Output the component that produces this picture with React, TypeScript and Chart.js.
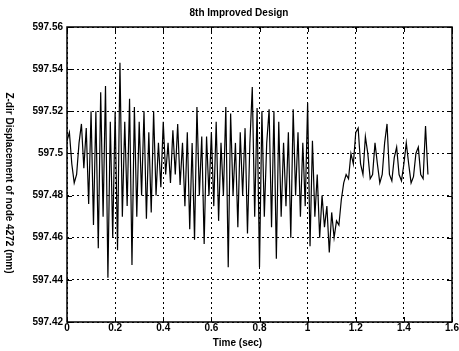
import React, { useEffect, useRef } from "react";
import { Chart, registerables } from "chart.js";

Chart.register(...registerables);

const chartTitle = "8th Improved Design";
const xAxisTitle = "Time (sec)";
const yAxisTitle = "Z-dir Displacement of node 4272 (mm)";

const xTickValues = [0, 0.2, 0.4, 0.6, 0.8, 1, 1.2, 1.4, 1.6];
const xTickLabels = ["0", "0.2", "0.4", "0.6", "0.8", "1", "1.2", "1.4", "1.6"];
const yTickValues = [597.42, 597.44, 597.46, 597.48, 597.5, 597.52, 597.54, 597.56];
const yTickLabels = ["597.42", "597.44", "597.46", "597.48", "597.5", "597.52", "597.54", "597.56"];

const sampleStep = 0.01; // sec between samples

const displacement = [
  // 0.00 - 0.09
  597.506, 597.51, 597.495, 597.486, 597.49, 597.505, 597.514, 597.493, 597.512, 597.476,
  // 0.10 - 0.19
  597.52, 597.466, 597.52, 597.455, 597.529, 597.47, 597.532, 597.441, 597.515, 597.46,
  // 0.20 - 0.29
  597.52, 597.454, 597.543, 597.47, 597.515, 597.475, 597.526, 597.447, 597.522, 597.47,
  // 0.30 - 0.39
  597.515, 597.48, 597.52, 597.469, 597.51, 597.472, 597.52, 597.48, 597.505, 597.484,
  // 0.40 - 0.49
  597.515, 597.49, 597.505, 597.486, 597.511, 597.49, 597.514, 597.485, 597.505, 597.475,
  // 0.50 - 0.59
  597.51, 597.464, 597.505, 597.459, 597.522, 597.48, 597.508, 597.457, 597.508, 597.48,
  // 0.60 - 0.69
  597.51, 597.475, 597.515, 597.468, 597.505, 597.48, 597.522, 597.446, 597.519, 597.48,
  // 0.70 - 0.79
  597.505, 597.465, 597.51, 597.48, 597.512, 597.462, 597.505, 597.5315, 597.47, 597.5215,
  // 0.80 - 0.89
  597.446, 597.52, 597.47, 597.505, 597.521, 597.465, 597.52, 597.45, 597.515, 597.47,
  // 0.90 - 0.99
  597.505, 597.475, 597.51, 597.46, 597.521, 597.48, 597.51, 597.47, 597.505, 597.475,
  // 1.00 - 1.09
  597.524, 597.456, 597.506, 597.47, 597.49, 597.46, 597.48, 597.465, 597.475, 597.453,
  // 1.10 - 1.19
  597.472, 597.46, 597.468, 597.466, 597.478, 597.486, 597.49, 597.488, 597.5, 597.495,
  // 1.20 - 1.29
  597.51, 597.512, 597.495, 597.49, 597.508, 597.5, 597.488, 597.49, 597.505, 597.495,
  // 1.30 - 1.39
  597.486, 597.49, 597.505, 597.514, 597.49, 597.487, 597.498, 597.503, 597.49, 597.487,
  // 1.40 - 1.50
  597.495, 597.505, 597.495, 597.486, 597.489, 597.5, 597.503, 597.49, 597.488, 597.513, 597.49,
];

const FONT = '"Liberation Sans", Arial, Helvetica, sans-serif';

const framePlugin = {
  id: "matlabFrame",
  afterDraw(chart: any) {
    const { ctx, chartArea: a } = chart;
    const xs = chart.scales.x;
    const ys = chart.scales.y;
    ctx.save();
    ctx.strokeStyle = "#000";
    ctx.lineWidth = 1.5;
    ctx.strokeRect(a.left, a.top, a.right - a.left, a.bottom - a.top);
    ctx.lineWidth = 1;
    ctx.beginPath();
    xTickValues.forEach((v) => {
      const px = Math.round(xs.getPixelForValue(v)) + 0.5;
      ctx.moveTo(px, a.bottom);
      ctx.lineTo(px, a.bottom - 5);
      ctx.moveTo(px, a.top);
      ctx.lineTo(px, a.top + 5);
    });
    yTickValues.forEach((v) => {
      const py = Math.round(ys.getPixelForValue(v)) + 0.5;
      ctx.moveTo(a.left, py);
      ctx.lineTo(a.left + 5, py);
      ctx.moveTo(a.right, py);
      ctx.lineTo(a.right - 5, py);
    });
    ctx.stroke();

    ctx.fillStyle = "#000";
    ctx.font = `bold 10px ${FONT}`;
    ctx.textAlign = "center";
    ctx.textBaseline = "middle";
    ctx.fillText(chartTitle, 239, 13);
    ctx.fillText(xAxisTitle, 237.5, 343);
    ctx.translate(9, 183);
    ctx.rotate(Math.PI / 2);
    ctx.fillText(yAxisTitle, 0, 0);
    ctx.restore();
  },
};

export default function App() {
  const canvasRef = useRef<HTMLCanvasElement | null>(null);

  useEffect(() => {
    if (!canvasRef.current) return;
    const points = displacement.map((v, i) => ({ x: i * sampleStep, y: v }));
    const chart = new Chart(canvasRef.current, {
      type: "line",
      data: {
        datasets: [
          {
            data: points,
            borderColor: "#000",
            borderWidth: 1.2,
            pointRadius: 0,
            tension: 0,
            fill: false,
          },
        ],
      },
      options: {
        animation: false,
        responsive: true,
        maintainAspectRatio: false,
        layout: { padding: { top: 27, right: 7, left: 0, bottom: 0 } },
        plugins: {
          legend: { display: false },
          tooltip: { enabled: false },
          title: { display: false },
        },
        scales: {
          x: {
            type: "linear",
            min: 0,
            max: 1.6,
            afterBuildTicks: (scale: any) => {
              scale.ticks = xTickValues.map((v) => ({ value: v }));
            },
            afterFit: (scale: any) => {
              scale.height = 29;
            },
            ticks: {
              autoSkip: false,
              maxRotation: 0,
              padding: 0,
              color: "#000",
              font: { family: FONT, size: 10, weight: "bold" },
              callback: (v: any) => {
                const idx = xTickValues.findIndex((t) => Math.abs(t - Number(v)) < 1e-9);
                return idx >= 0 ? xTickLabels[idx] : "";
              },
            },
            grid: { color: "#000", lineWidth: 1, drawTicks: false },
            border: { display: false, dash: [2, 3] },
          },
          y: {
            type: "linear",
            min: 597.42,
            max: 597.56,
            afterBuildTicks: (scale: any) => {
              scale.ticks = yTickValues.map((v) => ({ value: v }));
            },
            afterFit: (scale: any) => {
              scale.width = 67;
            },
            ticks: {
              autoSkip: false,
              padding: 4,
              color: "#000",
              font: { family: FONT, size: 10, weight: "bold" },
              callback: (v: any) => {
                const idx = yTickValues.findIndex((t) => Math.abs(t - Number(v)) < 1e-9);
                return idx >= 0 ? yTickLabels[idx] : "";
              },
            },
            grid: { color: "#000", lineWidth: 1, drawTicks: false },
            border: { display: false, dash: [2, 3] },
          },
        },
      },
      plugins: [framePlugin],
    });
    return () => chart.destroy();
  }, []);

  return (
    <div style={{ position: "absolute", left: 0, top: 0, width: 459, height: 351, background: "#fff" }}>
      <canvas ref={canvasRef} />
    </div>
  );
}
